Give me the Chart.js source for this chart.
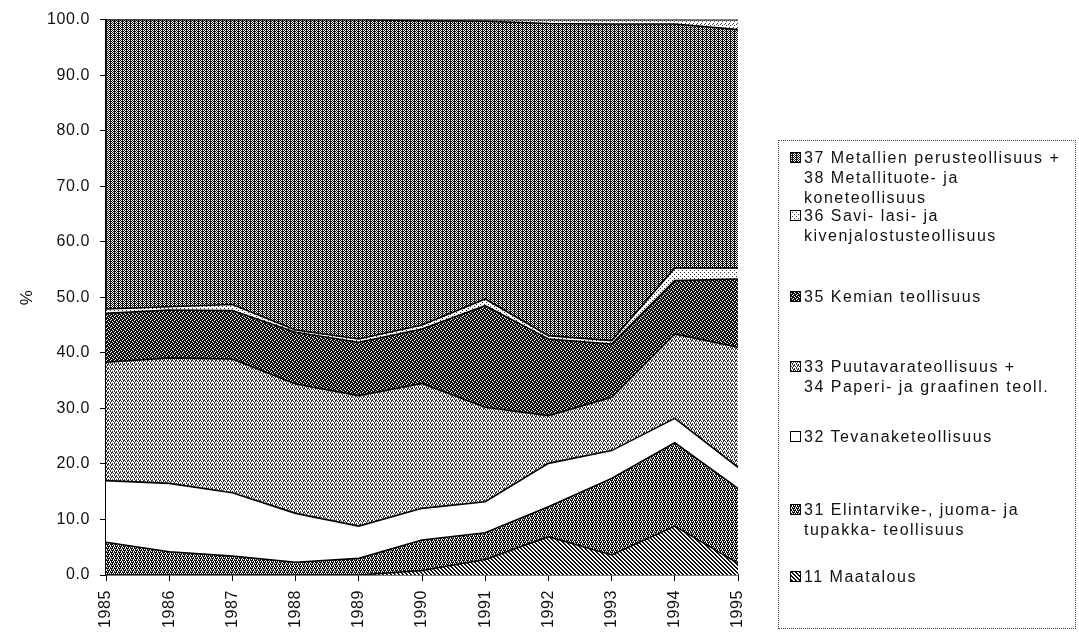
<!DOCTYPE html>
<html lang="fi">
<head>
    <meta charset="UTF-8">
    <script src="https://cdn.jsdelivr.net/npm/chart.js"></script>
    <title>Teollisuuden toimialat</title>
    <style>
        body { margin: 0; background: #fff; font-family: "Liberation Sans", Arial, sans-serif; }
        #wrap { position: relative; width: 1079px; height: 635px; }
        #chart { position: absolute; left: 0; top: 0; }
        #legend {
            position: absolute; left: 778px; top: 140px; width: 298px; height: 489px;
            border: 1px dotted #444; box-sizing: border-box;
        }
        .item { position: absolute; left: 790px; font-size: 16px; letter-spacing: 1.5px; line-height: 20px; color: #111; white-space: nowrap; }
        .item canvas { position: absolute; left: 0; top: 4px; width: 11px; height: 11px; }
        .item span { display: block; padding-left: 14px; }
    </style>
</head>
<body>
<div id="wrap">
    <canvas id="chart" width="1079" height="635"></canvas>
    <div id="legend"></div>
</div>
<script>
    const years = ['1985', '1986', '1987', '1988', '1989', '1990', '1991', '1992', '1993', '1994', '1995'];

    // osuudet (%), alhaalta ylös
    const maatalous   = [0, 0, 0, 0, 0, 0.8, 2.8, 6.9, 3.6, 8.8, 2.1];
    const elintarvike = [5.9, 4.2, 3.4, 2.3, 3.0, 5.5, 4.8, 5.4, 13.8, 15.0, 13.5];
    const tevanake    = [11.1, 12.3, 11.4, 8.8, 5.8, 5.7, 5.6, 7.8, 5.0, 4.4, 3.8];
    const puutavara   = [21.3, 22.6, 24.1, 23.3, 23.5, 22.5, 17.0, 8.6, 9.6, 15.2, 21.6];
    const kemian      = [8.8, 8.6, 8.7, 9.3, 9.6, 9.8, 18.3, 13.8, 9.6, 9.6, 12.3];
    const savi        = [0.8, 0.6, 1.1, 0.4, 0.6, 0.7, 1.2, 0.6, 0.6, 2.3, 2.0];
    const metalli     = [52.1, 51.7, 51.3, 55.9, 57.5, 54.8, 50.0, 56.2, 57.0, 43.9, 42.9];
    const muu         = [0, 0, 0, 0, 0, 0.2, 0.3, 0.7, 0.8, 0.8, 1.8];

    const yTicks = [0, 10, 20, 30, 40, 50, 60, 70, 80, 90, 100];

    // rasterikuviot kuten alkuperäisessä
    function makePattern(rows, ink, paper) {
        const c = document.createElement('canvas');
        c.width = rows[0].length;
        c.height = rows.length;
        const g = c.getContext('2d');
        g.fillStyle = paper;
        g.fillRect(0, 0, c.width, c.height);
        g.fillStyle = ink;
        rows.forEach((r, y) => {
            for (let x = 0; x < r.length; x++) {
                if (r[x] === 'X') g.fillRect(x, y, 1, 1);
            }
        });
        return c;
    }

    const tiles = {
        maatalous: makePattern(['XX..', '.XX.', '..XX', 'X..X'], '#111', '#fff'),
        elintarvike: makePattern(['X.XX', '.X.X', 'XX.X', 'X.X.'], '#111', '#fff'),
        tevanake: makePattern(['....', '....', '....', '....'], '#111', '#fff'),
        puutavara: makePattern(['X..X', '.X.X', '..X.', 'X.X.'], '#333', '#fff'),
        kemian: makePattern(['XX.X', '.XXX', 'X.XX', 'XXX.'], '#111', '#fff'),
        savi: makePattern(['X...', '....', '..X.', '....'], '#333', '#fff'),
        metalli: makePattern(['X.X.', '.XXX', 'X.X.', '.XXX'], '#111', '#fff'),
        muu: makePattern(['X...', '..X.', '....', '.X..'], '#444', '#fff')
    };

    const ctx = document.getElementById('chart');
    const g2 = ctx.getContext('2d');
    const pat = name => g2.createPattern(tiles[name], 'repeat');

    const series = [
        { key: 'maatalous', label: '11 Maatalous', data: maatalous },
        { key: 'elintarvike', label: '31 Elintarvike-, juoma- ja tupakka- teollisuus', data: elintarvike },
        { key: 'tevanake', label: '32 Tevanaketeollisuus', data: tevanake },
        { key: 'puutavara', label: '33 Puutavarateollisuus + 34 Paperi- ja graafinen teoll.', data: puutavara },
        { key: 'kemian', label: '35 Kemian teollisuus', data: kemian },
        { key: 'savi', label: '36 Savi- lasi- ja kivenjalostusteollisuus', data: savi },
        { key: 'metalli', label: '37 Metallien perusteollisuus + 38 Metallituote- ja koneteollisuus', data: metalli },
        { key: 'muu', label: 'muu', data: muu }
    ];

    const font = { family: '"Liberation Sans", Arial', size: 16 };

    new Chart(ctx, {
        type: 'line',
        data: {
            labels: years,
            datasets: series.map((s, i) => ({
                label: s.label,
                data: s.data,
                backgroundColor: pat(s.key),
                borderColor: '#000',
                borderWidth: 1.6,
                pointRadius: 0,
                tension: 0,
                fill: i === 0 ? 'origin' : '-1'
            }))
        },
        options: {
            responsive: false,
            animation: false,
            layout: { padding: { left: 0, top: 19, right: 341, bottom: 0 } },
            plugins: { legend: { display: false }, tooltip: { enabled: false } },
            scales: {
                x: {
                    offset: false,
                    afterFit: s => { s.height = 60; },
                    grid: { drawOnChartArea: false, drawTicks: true, tickLength: 6, color: '#000' },
                    border: { display: true, color: '#000', width: 1.5 },
                    ticks: { autoSkip: false, minRotation: 90, maxRotation: 90, padding: 9, color: '#111', font }
                },
                y: {
                    stacked: true,
                    min: 0,
                    max: 100,
                    afterFit: s => { s.width = 106; },
                    afterBuildTicks: s => { s.ticks = yTicks.map(v => ({ value: v })); },
                    grid: { drawOnChartArea: false, drawTicks: true, tickLength: 6, color: '#000' },
                    border: { display: true, color: '#000', width: 1.5 },
                    title: { display: true, text: '%', padding: { top: 17, bottom: 0 }, color: '#111', font: { ...font, size: 17 } },
                    ticks: { padding: 10, color: '#111', font, callback: v => Number(v).toFixed(1) }
                }
            }
        },
        plugins: [{
            id: 'spacing',
            beforeDraw: c => { c.ctx.letterSpacing = '0.6px'; }
        }]
    });

    // selite omana laatikkonaan, rivit kuten alkuperäisessä
    const legendItems = [
        { key: 'metalli', top: 148, lines: ['37 Metallien perusteollisuus +', '38 Metallituote- ja', 'koneteollisuus'] },
        { key: 'savi', top: 206, lines: ['36 Savi- lasi- ja', 'kivenjalostusteollisuus'] },
        { key: 'kemian', top: 287, lines: ['35 Kemian teollisuus'] },
        { key: 'puutavara', top: 357, lines: ['33 Puutavarateollisuus +', '34 Paperi- ja graafinen teoll.'] },
        { key: 'tevanake', top: 427, lines: ['32 Tevanaketeollisuus'] },
        { key: 'elintarvike', top: 500, lines: ['31 Elintarvike-, juoma- ja', 'tupakka- teollisuus'] },
        { key: 'maatalous', top: 567, lines: ['11 Maatalous'] }
    ];

    const wrap = document.getElementById('wrap');
    legendItems.forEach(it => {
        const d = document.createElement('div');
        d.className = 'item';
        d.style.top = it.top + 'px';
        const m = document.createElement('canvas');
        m.width = 11; m.height = 11;
        const mg = m.getContext('2d');
        mg.fillStyle = mg.createPattern(tiles[it.key], 'repeat');
        mg.fillRect(0, 0, 11, 11);
        mg.strokeStyle = '#000';
        mg.lineWidth = 1;
        mg.strokeRect(0.5, 0.5, 10, 10);
        d.appendChild(m);
        it.lines.forEach(t => {
            const sp = document.createElement('span');
            sp.textContent = t;
            d.appendChild(sp);
        });
        wrap.appendChild(d);
    });
</script>
</body>
</html>
